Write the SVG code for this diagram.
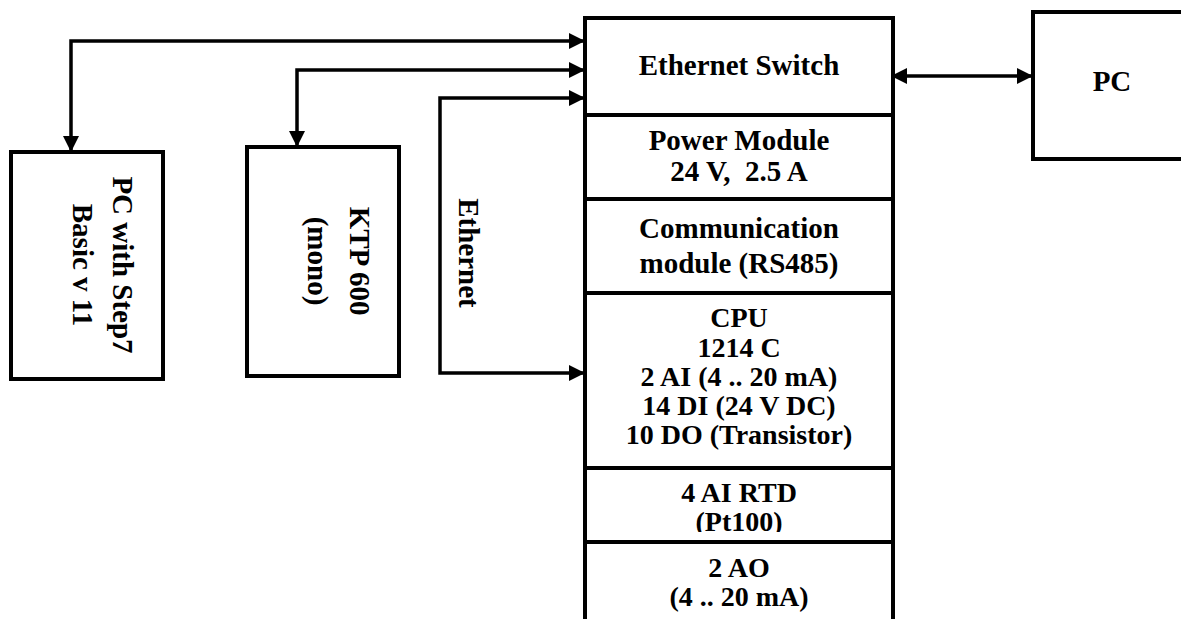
<svg xmlns="http://www.w3.org/2000/svg" width="1181" height="619" viewBox="0 0 1181 619">
<style>
.box{fill:#fff;stroke:#000;stroke-width:4}
.sep{stroke:#000;stroke-width:4}
.conn{fill:none;stroke:#000;stroke-width:3.5;marker-start:url(#ah);marker-end:url(#ah)}
text{font-family:"Liberation Serif","Times New Roman",serif;font-weight:bold;font-size:29px;fill:#000;text-anchor:middle}
.t28{font-size:28px}
</style>
<defs>
<marker id="ah" viewBox="0 0 16 16" refX="15" refY="8" markerWidth="16" markerHeight="16" markerUnits="userSpaceOnUse" orient="auto-start-reverse">
<path d="M0,0 L16,8 L0,16 Z" fill="#000"/>
</marker>
<clipPath id="rtdclip"><rect x="585" y="468" width="308" height="64"/></clipPath>
</defs>
<rect width="1181" height="619" fill="#fff"/>

<g id="connectors">
<path class="conn" d="M71,151 V41 H584"/>
<path class="conn" d="M297,146 V70 H584"/>
<path class="conn" d="M584,98 H440 V373 H584"/>
<path class="conn" d="M892,76 H1032"/>
</g>

<g id="plc">
<rect class="box" x="585" y="18" width="308" height="620"/>
<line class="sep" x1="585" y1="115" x2="893" y2="115"/>
<line class="sep" x1="585" y1="199" x2="893" y2="199"/>
<line class="sep" x1="585" y1="293" x2="893" y2="293"/>
<line class="sep" x1="585" y1="468" x2="893" y2="468"/>
<line class="sep" x1="585" y1="542" x2="893" y2="542"/>
</g>
<g id="ethernet-switch"><text x="739" y="75">Ethernet Switch</text></g>
<g id="power-module"><text x="739" y="150">Power Module</text><text x="739" y="181" xml:space="preserve">24 V,  2.5 A</text></g>
<g id="comm-module"><text x="739" y="238">Communication</text><text x="739" y="273">module (RS485)</text></g>
<g id="cpu">
<text class="t28" x="739" y="327">CPU</text>
<text class="t28" x="739" y="357">1214 C</text>
<text class="t28" x="739" y="386">2 AI (4 .. 20 mA)</text>
<text class="t28" x="739" y="415">14 DI (24 V DC)</text>
<text class="t28" x="739" y="444">10 DO (Transistor)</text>
</g>
<g id="rtd"><g clip-path="url(#rtdclip)"><text class="t28" x="739" y="502">4 AI RTD</text><text class="t28" x="739" y="531">(Pt100)</text></g></g>
<g id="ao"><text class="t28" x="739" y="577">2 AO</text><text class="t28" x="739" y="606">(4 .. 20 mA)</text></g>

<g id="pc">
<rect class="box" x="1033" y="12" width="170" height="147"/>
<text x="1112" y="91">PC</text>
</g>

<g id="pc-step7">
<rect class="box" x="11" y="152" width="152" height="227"/>
<g transform="translate(113,265) rotate(90)"><text x="0" y="0">PC with Step7</text><text x="0" y="40">Basic v 11</text></g>
</g>

<g id="ktp600">
<rect class="box" x="247" y="147" width="152" height="229"/>
<g transform="translate(350,261) rotate(90)"><text x="0" y="0">KTP 600</text><text x="0" y="42">(mono)</text></g>
</g>

<g id="ethernet-label">
<g transform="translate(459,253) rotate(90)"><text x="0" y="0">Ethernet</text></g>
</g>
</svg>
